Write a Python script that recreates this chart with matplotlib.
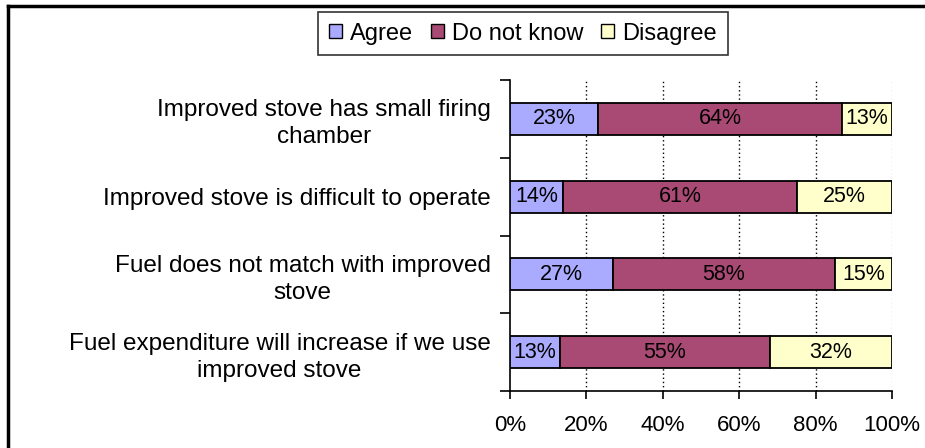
import matplotlib.pyplot as plt
import numpy as np
from matplotlib.lines import Line2D

plt.rcParams['font.family'] = ['Liberation Sans', 'DejaVu Sans']

# data, top row first
labels = ["Improved stove has small firing\nchamber",
          "Improved stove is difficult to operate",
          "Fuel does not match with improved\nstove",
          "Fuel expenditure will increase if we use\nimproved stove"]
agree = [23, 14, 27, 13]
dont_know = [64, 61, 58, 55]
disagree = [13, 25, 15, 32]
series = ["Agree", "Do not know", "Disagree"]
colors = ['#AAAAFF', '#A84A74', '#FFFFCC']

fig = plt.figure(figsize=(9.25, 4.48), dpi=100)
ax = fig.add_axes([510 / 925, 1 - 391 / 448, 382 / 925, 311 / 448])

y = np.arange(len(labels))[::-1]
height = 0.41
left = np.zeros(len(labels))
for vals, name, c in zip([agree, dont_know, disagree], series, colors):
    vals = np.array(vals)
    bars = ax.barh(y, vals, height, left=left, color=c, edgecolor='black',
                   linewidth=1.3, label=name, zorder=3)
    ax.bar_label(bars, labels=[f"{v}%" for v in vals], label_type='center',
                 fontsize=15.5, color='black')
    left += vals

ax.set_xlim(0, 100)
ax.set_ylim(-0.5, len(labels) - 0.5)
ax.set_xticks(np.arange(0, 101, 20))
ax.set_xticklabels([f"{v}%" for v in range(0, 101, 20)], fontsize=16)
ax.tick_params(axis='x', length=6, width=1.2, pad=11)

ax.set_yticks(y)
ax.set_yticklabels(labels, fontsize=17.5, multialignment='center', linespacing=1.3)
ax.tick_params(axis='y', which='major', length=0, pad=14)
ax.set_yticks(np.arange(-0.5, len(labels), 1.0), minor=True)
ax.tick_params(axis='y', which='minor', length=7, width=1.2)

for v in [20, 40, 60, 80]:
    ax.axvline(v, color='black', linestyle=(0, (1, 2)), linewidth=1, zorder=1)
ax.axvline(100, color='#BBBBBB', linestyle=(0, (1, 2)), linewidth=1, zorder=1)

for s in ['top', 'right']:
    ax.spines[s].set_visible(False)
for s in ['left', 'bottom']:
    ax.spines[s].set_linewidth(1.2)

leg = ax.legend(loc='upper center', bbox_to_anchor=(523 / 925, 1 - 12 / 448),
                bbox_transform=fig.transFigure, ncol=3, fontsize=17,
                frameon=True, fancybox=False, edgecolor='black',
                handlelength=0.55, handleheight=0.55, handletextpad=0.35,
                columnspacing=0.75, borderpad=0.45, borderaxespad=0)
leg.get_frame().set_linewidth(1.2)
for h in leg.legend_handles:
    h.set_edgecolor('black')
    h.set_linewidth(1)

# outer chart border (top and left visible)
fig.add_artist(Line2D([8 / 925, 1], [1 - 6 / 448, 1 - 6 / 448],
                      transform=fig.transFigure, color='black', linewidth=2.5))
fig.add_artist(Line2D([8 / 925, 8 / 925], [0, 1 - 6 / 448],
                      transform=fig.transFigure, color='black', linewidth=2.5))

fig.savefig("out.png", dpi=100)
